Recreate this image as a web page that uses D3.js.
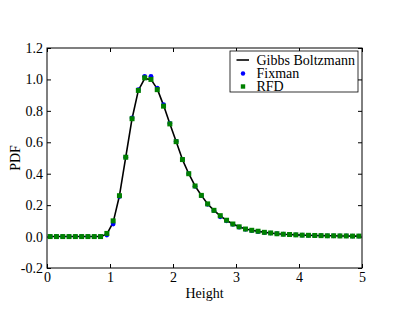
<!DOCTYPE html>
<html>
<head>
<meta charset="utf-8">
<script src="https://cdn.jsdelivr.net/npm/d3@7"></script>
<style>
  body { margin: 0; background: #fff; }
  svg text { font-family: "Liberation Serif", "DejaVu Serif", serif; }
</style>
</head>
<body>
<svg id="chart" width="407" height="315"></svg>
<script>
// bin centres (height) and the three PDF estimates
const heights = d3.range(50).map(i => +(0.05 + i * 0.1).toFixed(2));

const gibbs = [0, 0, 0, 0, 0, 0, 0, 0, 0,
  0.015, 0.09, 0.26, 0.505, 0.75, 0.93, 1.005, 1.0, 0.94, 0.835, 0.718,
  0.605, 0.49, 0.40, 0.322, 0.262, 0.207, 0.167, 0.132, 0.103, 0.08,
  0.062, 0.048, 0.040, 0.033, 0.027, 0.023, 0.018, 0.015, 0.013, 0.011,
  0.009, 0.008, 0.007, 0.006, 0.005, 0.005, 0.004, 0.004, 0.003, 0.003];

const fixman = [0, 0, 0, 0, 0, 0, 0, 0, 0,
  0.01, 0.08, 0.255, 0.505, 0.755, 0.935, 1.02, 1.02, 0.945, 0.84, 0.72,
  0.605, 0.49, 0.40, 0.32, 0.26, 0.205, 0.165, 0.126, 0.1, 0.078,
  0.06, 0.046, 0.038, 0.031, 0.026, 0.022, 0.018, 0.015, 0.013, 0.011,
  0.009, 0.008, 0.007, 0.006, 0.005, 0.005, 0.004, 0.004, 0.003, 0.003];

const rfd = [0, 0, 0, 0, 0, 0, 0, 0, 0,
  0.02, 0.10, 0.26, 0.505, 0.75, 0.93, 1.01, 1.0, 0.935, 0.83, 0.717,
  0.604, 0.49, 0.40, 0.322, 0.262, 0.208, 0.167, 0.133, 0.104, 0.08,
  0.062, 0.048, 0.040, 0.034, 0.027, 0.023, 0.018, 0.015, 0.013, 0.011,
  0.009, 0.008, 0.007, 0.006, 0.005, 0.005, 0.004, 0.004, 0.003, 0.003];

const xTicks = [0, 1, 2, 3, 4, 5];
const yTicks = [-0.2, 0.0, 0.2, 0.4, 0.6, 0.8, 1.0, 1.2];
const legendLabels = ["Gibbs Boltzmann", "Fixman", "RFD"];

const margin = {left: 47, top: 48, right: 45, bottom: 47};
const width = 407, height = 315;

const svg = d3.select("#chart");

const x = d3.scaleLinear().domain([0, 5]).range([margin.left, width - margin.right]);
const y = d3.scaleLinear().domain([-0.2, 1.2]).range([height - margin.bottom, margin.top]);

const fmt1 = d3.format(".1f");
const tick = 4;

// axes (ticks point inward, matplotlib classic)
svg.append("g")
    .attr("transform", "translate(0," + y(-0.2) + ")")
    .call(d3.axisBottom(x).tickValues(xTicks).tickFormat(d3.format("d"))
      .tickSizeInner(-tick).tickSizeOuter(0).tickPadding(4));
svg.append("g")
    .attr("transform", "translate(0," + y(1.2) + ")")
    .call(d3.axisTop(x).tickValues(xTicks).tickFormat("")
      .tickSizeInner(-tick).tickSizeOuter(0));
svg.append("g")
    .attr("transform", "translate(" + x(0) + ",0)")
    .call(d3.axisLeft(y).tickValues(yTicks).tickFormat(d => fmt1(d).replace("−", "-"))
      .tickSizeInner(-tick).tickSizeOuter(0).tickPadding(4));
svg.append("g")
    .attr("transform", "translate(" + x(5) + ",0)")
    .call(d3.axisRight(y).tickValues(yTicks).tickFormat("")
      .tickSizeInner(-tick).tickSizeOuter(0));

svg.selectAll(".domain").remove();
svg.selectAll(".tick text")
    .attr("font-family", "Liberation Serif, serif")
    .attr("font-size", 14)
    .attr("fill", "#000");
svg.selectAll(".tick line").attr("stroke", "#000");

// curve and markers
const line = d3.line()
    .x((d, i) => x(heights[i]))
    .y(d => y(d));

svg.append("path")
    .attr("d", line(gibbs))
    .attr("fill", "none")
    .attr("stroke", "#000")
    .attr("stroke-width", 1.6)
    .attr("stroke-linejoin", "round");

svg.append("g").selectAll("circle")
  .data(fixman)
  .join("circle")
    .attr("cx", (d, i) => x(heights[i]))
    .attr("cy", d => y(d))
    .attr("r", 2.4)
    .attr("fill", "#0000ff");

const sq = 5;
svg.append("g").selectAll("rect")
  .data(rfd)
  .join("rect")
    .attr("x", (d, i) => x(heights[i]) - sq / 2)
    .attr("y", d => y(d) - sq / 2)
    .attr("width", sq)
    .attr("height", sq)
    .attr("fill", "#008000");

// frame
svg.append("rect")
    .attr("x", x(0))
    .attr("y", y(1.2))
    .attr("width", x(5) - x(0))
    .attr("height", y(-0.2) - y(1.2))
    .attr("fill", "none")
    .attr("stroke", "#000")
    .attr("stroke-width", 1);

// axis titles
svg.append("text")
    .attr("x", (x(0) + x(5)) / 2)
    .attr("y", 298)
    .attr("text-anchor", "middle")
    .attr("font-size", 14)
    .text("Height");

svg.append("text")
    .attr("transform", "translate(20," + y(0.5) + ") rotate(-90)")
    .attr("text-anchor", "middle")
    .attr("font-size", 14)
    .text("PDF");

// legend
const lg = svg.append("g");
lg.append("rect")
    .attr("x", 230)
    .attr("y", 51)
    .attr("width", 128)
    .attr("height", 41)
    .attr("fill", "#fff")
    .attr("stroke", "#000")
    .attr("stroke-width", 0.8);

const rowY = [60, 73.5, 86.5];
legendLabels.forEach((lab, i) => {
  lg.append("text")
      .attr("x", 256.5)
      .attr("y", rowY[i] + 4.5)
      .attr("font-size", 14)
      .text(lab);
});
lg.append("line")
    .attr("x1", 236.5).attr("x2", 249)
    .attr("y1", rowY[0]).attr("y2", rowY[0])
    .attr("stroke", "#000").attr("stroke-width", 1.6);
lg.append("circle")
    .attr("cx", 243).attr("cy", rowY[1]).attr("r", 2.2)
    .attr("fill", "#0000ff");
lg.append("rect")
    .attr("x", 243 - 2.2).attr("y", rowY[2] - 2.2)
    .attr("width", 4.4).attr("height", 4.4)
    .attr("fill", "#008000");
</script>
</body>
</html>
